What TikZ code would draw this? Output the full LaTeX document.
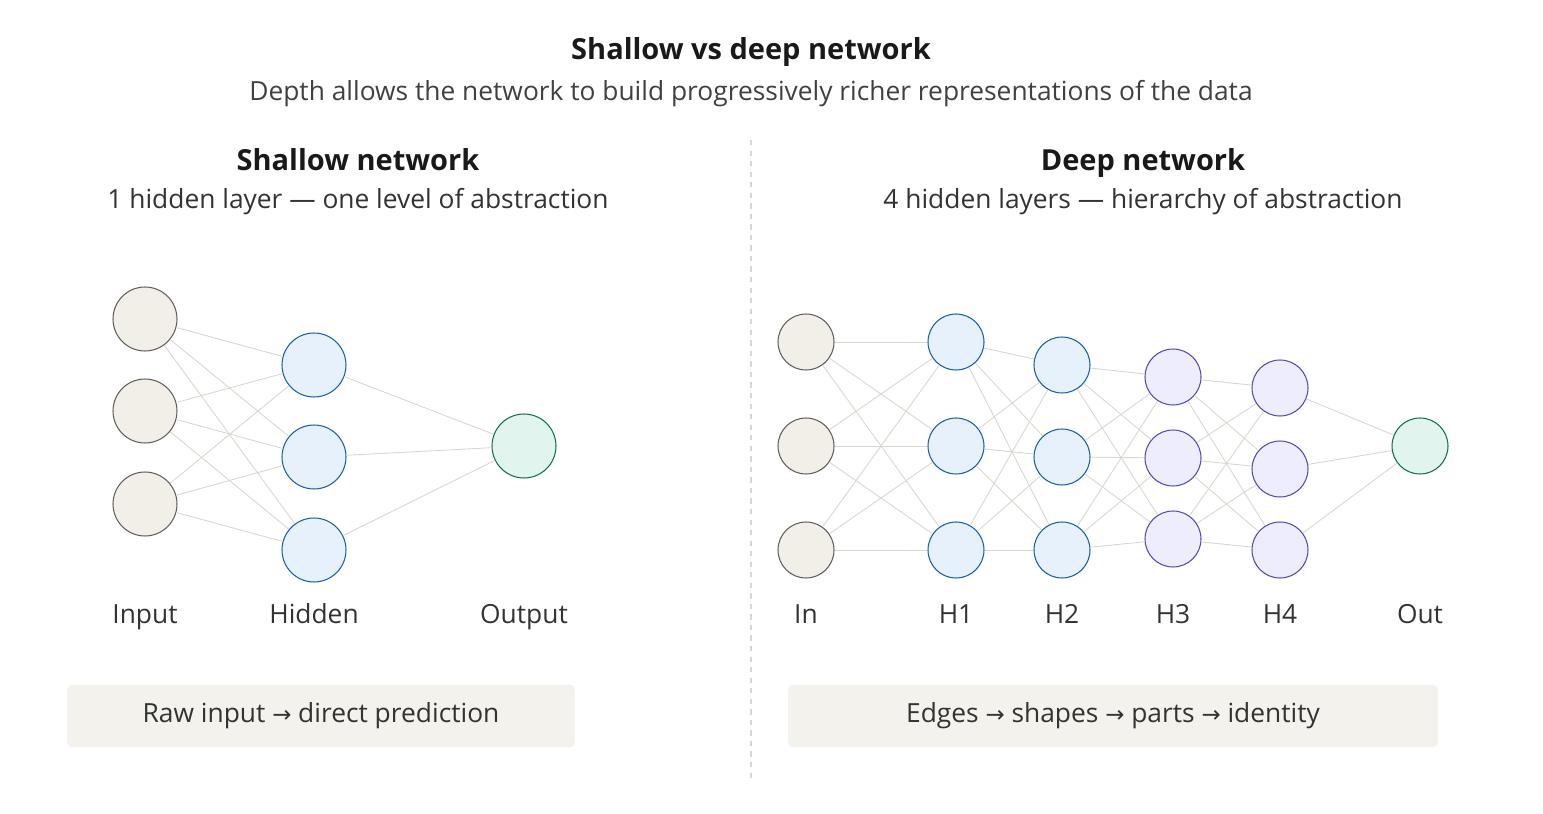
\documentclass[tikz,border=0pt]{standalone}
\usepackage{fontspec}
\setmainfont{Open Sans}
\newfontfamily\arrowfont{DejaVu Sans}
\usetikzlibrary{positioning}
\definecolor{inFill}{HTML}{F1EFE8}\definecolor{inLine}{HTML}{5F5E5A}
\definecolor{hidFill}{HTML}{E6F1FB}\definecolor{hidLine}{HTML}{185FA5}
\definecolor{outFill}{HTML}{E1F5EE}\definecolor{outLine}{HTML}{0F6E56}
\definecolor{purFill}{HTML}{EEEDFE}\definecolor{purLine}{HTML}{534AB7}
\definecolor{edgeCol}{HTML}{D8D6CE}\definecolor{boxFill}{HTML}{F3F2EC}
\newcommand{\toArrow}{{\arrowfont\fontsize{13}{16}\selectfont →}}
\tikzset{
  unit/.style={circle, draw, line width=0.6pt, inner sep=0pt},
  big/.style={unit, minimum size=1.28cm},
  small/.style={unit, minimum size=1.12cm},
  inp/.style={fill=inFill, draw=inLine},
  hid/.style={fill=hidFill, draw=hidLine},
  outp/.style={fill=outFill, draw=outLine},
  pur/.style={fill=purFill, draw=purLine},
  link/.style={draw=edgeCol, line width=0.5pt},
  lbl/.style={font=\fontsize{15}{17}\selectfont, text=black!80, anchor=base},
  head/.style={font=\fontsize{16.5}{18}\selectfont\bfseries, text=black!90, anchor=base},
  caption/.style={fill=boxFill, rounded corners=3pt, font=\fontsize{15}{17}\selectfont, text=black!80}
}
\begin{document}
\begin{tikzpicture}[x=0.02cm, y=-0.02cm]
  \useasboundingbox (0,0) rectangle (1543,814);
  % headings
  \node[head] (title) at (751,60) {Shallow vs deep network};
  \node[lbl, text=black!75] (subtitle) at (751,101) {Depth allows the network to build progressively richer representations of the data};
  \node[head] (shTitle) at (358,171) {Shallow network};
  \node[lbl] (shSub) at (358,209) {1 hidden layer --- one level of abstraction};
  \node[head] (dpTitle) at (1143,171) {Deep network};
  \node[lbl] (dpSub) at (1143,209) {4 hidden layers --- hierarchy of abstraction};
  \draw[edgeCol, dashed, line width=0.6pt] (751,140) -- (751,780);

  % shallow network
  \foreach \i/\y in {1/319,2/411,3/504} \node[big, inp] (si\i) at (145,\y) {};
  \foreach \i/\y in {1/365,2/457,3/550} \node[big, hid] (sh\i) at (314,\y) {};
  \node[big, outp] (so) at (524,446) {};
  \foreach \a in {1,2,3} {
    \foreach \b in {1,2,3} \draw[link] (si\a) -- (sh\b);
    \draw[link] (sh\a) -- (so);
  }
  \foreach \x/\t in {145/Input,314/Hidden,524/Output} \node[lbl] at (\x,623) {\t};
  \node[caption, minimum width=10.16cm, minimum height=1.26cm] (shBox) at (321,716) {Raw input \toArrow{} direct prediction};

  % deep network
  \foreach \i/\y in {1/342,2/446,3/550} {
    \node[small, inp] (di\i) at (806,\y) {};
    \node[small, hid] (da\i) at (956,\y) {};
  }
  \foreach \i/\y in {1/365,2/457,3/550} \node[small, hid] (db\i) at (1062,\y) {};
  \foreach \i/\y in {1/377,2/458,3/539} \node[small, pur] (dc\i) at (1173,\y) {};
  \foreach \i/\y in {1/388,2/469,3/550} \node[small, pur] (dd\i) at (1280,\y) {};
  \node[small, outp] (do) at (1420,446) {};
  \foreach \a in {1,2,3} {
    \foreach \b in {1,2,3} {
      \draw[link] (di\a) -- (da\b);
      \draw[link] (da\a) -- (db\b);
      \draw[link] (db\a) -- (dc\b);
      \draw[link] (dc\a) -- (dd\b);
    }
    \draw[link] (dd\a) -- (do);
  }
  \foreach \x/\t in {806/In,956/H1,1062/H2,1173/H3,1280/H4,1420/Out} \node[lbl] at (\x,623) {\t};
  \node[caption, minimum width=13.0cm, minimum height=1.26cm] (dpBox) at (1113,716) {Edges \toArrow{} shapes \toArrow{} parts \toArrow{} identity};
\end{tikzpicture}
\end{document}
